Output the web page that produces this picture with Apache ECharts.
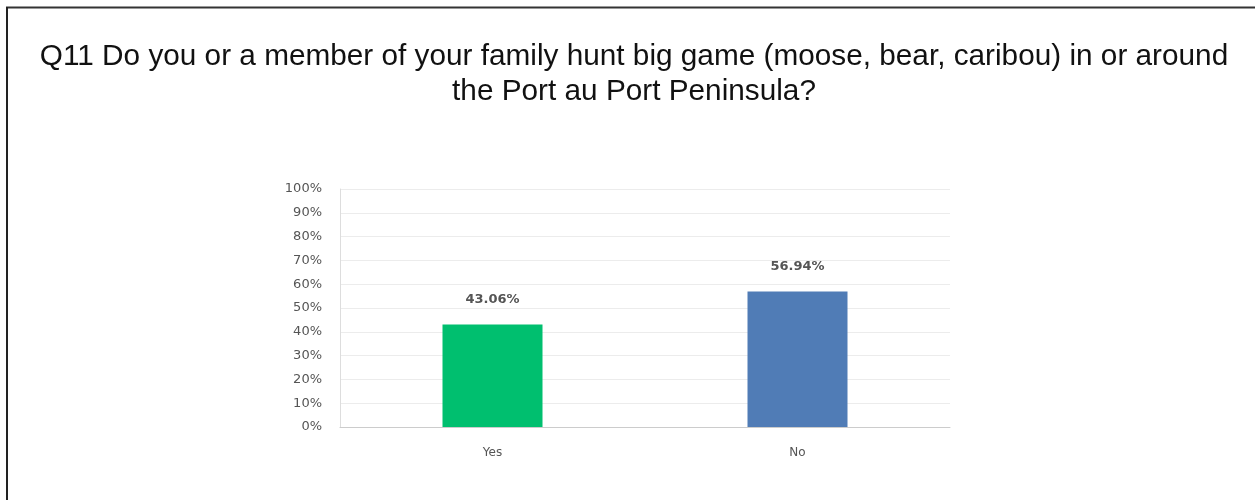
<!DOCTYPE html>
<html>
<head>
<meta charset="utf-8">
<script src="https://cdn.jsdelivr.net/npm/echarts@6/dist/echarts.min.js"></script>
<style>
  html, body { margin: 0; padding: 0; background: #fff; }
  #chart { width: 1255px; height: 500px; }
</style>
</head>
<body>
<div id="chart"></div>
<script>
const titleText = 'Q11 Do you or a member of your family hunt big game (moose, bear, caribou) in or around\nthe Port au Port Peninsula?';
const categories = ['Yes', 'No'];
const values = [43.06, 56.94];
const barColors = ['#00bf6f', '#507cb6'];

const chart = echarts.init(document.getElementById('chart'), null, { renderer: 'canvas' });

chart.setOption({
  backgroundColor: '#fff',
  animation: false,
  title: {
    text: titleText,
    left: 634,
    textAlign: 'center',
    top: 39,
    padding: 0,
    textStyle: {
      fontFamily: 'Liberation Sans, Arial, sans-serif',
      fontSize: 29.75,
      fontWeight: 'normal',
      color: '#111',
      lineHeight: 35
    }
  },
  graphic: [
    { type: 'line', shape: { x1: 6, y1: 7.5, x2: 1255, y2: 7.5 }, style: { stroke: '#333', lineWidth: 2 } },
    { type: 'line', shape: { x1: 7, y1: 7, x2: 7, y2: 500 }, style: { stroke: '#222', lineWidth: 2 } }
  ],
  grid: { left: 340, right: 305, top: 189, bottom: 73, containLabel: false },
  xAxis: {
    type: 'category',
    data: categories,
    axisTick: { show: false },
    axisLine: { lineStyle: { color: '#ccc' } },
    axisLabel: {
      margin: 20,
      fontFamily: 'DejaVu Sans, sans-serif',
      fontSize: 12,
      color: '#555'
    }
  },
  yAxis: {
    type: 'value',
    min: 0,
    max: 100,
    interval: 10,
    axisLine: { show: true, lineStyle: { color: '#ddd' } },
    axisTick: { show: false },
    splitLine: { lineStyle: { color: '#ececec' } },
    axisLabel: {
      formatter: '{value}%',
      margin: 18,
      padding: [7, 0, 0, 0],
      fontFamily: 'DejaVu Sans, sans-serif',
      fontSize: 13,
      color: '#555'
    }
  },
  series: [{
    type: 'bar',
    barWidth: 100,
    data: values.map((v, i) => ({ value: v, itemStyle: { color: barColors[i] } })),
    label: {
      show: true,
      position: 'top',
      distance: 18,
      formatter: p => p.value.toFixed(2) + '%',
      fontFamily: 'DejaVu Sans, sans-serif',
      fontSize: 13,
      fontWeight: 'bold',
      color: '#555'
    }
  }]
});
</script>
</body>
</html>
